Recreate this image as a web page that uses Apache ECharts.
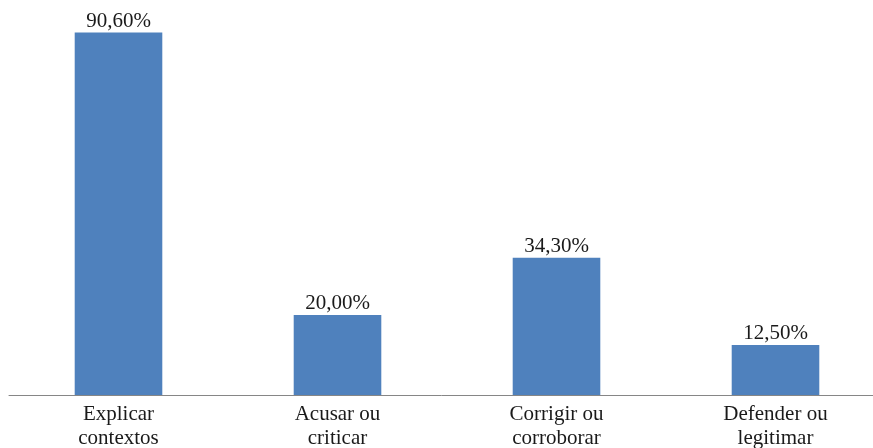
<!DOCTYPE html>
<html>
<head>
<meta charset="utf-8">
<script src="https://cdn.jsdelivr.net/npm/echarts@6/dist/echarts.min.js"></script>
<style>html,body{margin:0;padding:0;background:#fff}#c{width:873px;height:448px}</style>
</head>
<body>
<div id="c"></div>
<script>
const categories = ["Explicar\ncontextos", "Acusar ou\ncriticar", "Corrigir ou\ncorroborar", "Defender ou\nlegitimar"];
const values = [90.6, 20.0, 34.3, 12.5];

const chart = echarts.init(document.getElementById('c'), null, {renderer: 'canvas'});
chart.setOption({
  animation: false,
  grid: {left: 9, right: -12, top: -5, bottom: 53, containLabel: false, outerBoundsMode: 'none'},
  xAxis: {
    type: 'category',
    data: categories,
    axisTick: {show: false},
    axisLine: {lineStyle: {color: '#868686', width: 1}},
    axisLabel: {color: '#1a1a1a', fontFamily: 'Liberation Serif', fontSize: 21, lineHeight: 24, margin: 7, interval: 0}
  },
  yAxis: {type: 'value', min: 0, max: 100, show: false, splitLine: {show: false}},
  series: [{
    type: 'bar',
    data: values,
    barWidth: '40%',
    itemStyle: {color: '#4F81BD'},
    label: {
      show: true, position: 'top', distance: 1,
      color: '#1a1a1a', fontFamily: 'Liberation Serif', fontSize: 21,
      formatter: p => p.value.toFixed(2).replace('.', ',') + '%'
    }
  }]
});
</script>
</body>
</html>
